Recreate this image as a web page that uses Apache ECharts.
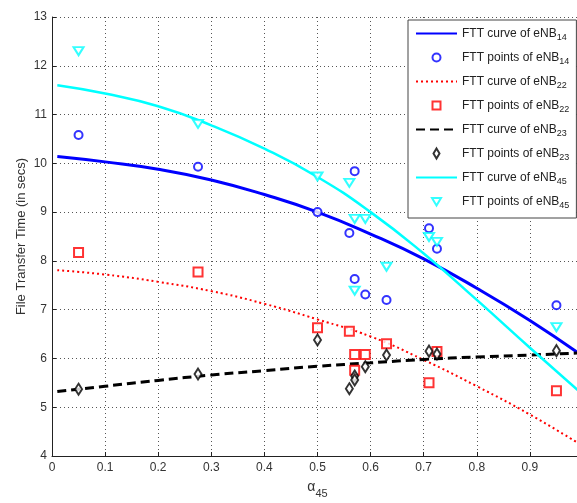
<!DOCTYPE html>
<html>
<head>
<meta charset="utf-8">
<script src="https://cdn.jsdelivr.net/npm/echarts@6/dist/echarts.min.js"></script>
<style>html,body{margin:0;padding:0;background:#fff}#c{width:577px;height:503px}</style>
</head>
<body>
<div id="c"></div>
<script>
// x positions of the fitted curves
const curveX = [0.01, 0.1, 0.2, 0.3, 0.4, 0.5, 0.6, 0.7, 0.8, 0.9, 0.99];
const curve14 = [10.14, 10.03, 9.88, 9.66, 9.36, 9.0, 8.55, 8.04, 7.44, 6.78, 6.12];
const curve22 = [7.81, 7.72, 7.57, 7.38, 7.12, 6.80, 6.45, 5.97, 5.43, 4.85, 4.27];
const curve23 = [5.32, 5.43, 5.55, 5.66, 5.75, 5.84, 5.91, 5.98, 6.03, 6.07, 6.11];
const curve45 = [11.60, 11.43, 11.17, 10.78, 10.30, 9.72, 9.0, 8.15, 7.2, 6.22, 5.35];

// measured points
const pointsX = [0.05, 0.275, 0.5, 0.56, 0.57, 0.57, 0.59, 0.63, 0.71, 0.725, 0.95];
const points14 = [10.58, 9.93, 9.0, 8.57, 9.84, 7.63, 7.31, 7.20, 8.67, 8.25, 7.09];
const points22 = [8.17, 7.77, 6.63, 6.56, 6.08, 5.76, 6.08, 6.30, 5.50, 6.14, 5.34];
const points23 = [5.37, 5.68, 6.38, 5.38, 5.64, 5.56, 5.83, 6.07, 6.15, 6.09, 6.16];
const points45 = [12.30, 10.81, 9.73, 9.60, 8.86, 7.39, 8.86, 7.88, 8.49, 8.39, 6.64];

const yTicks = [4, 5, 6, 7, 8, 9, 10, 11, 12, 13];
const xTicks = [0, 0.1, 0.2, 0.3, 0.4, 0.5, 0.6, 0.7, 0.8, 0.9];

const names = [
  'FTT curve of eNB14', 'FTT points of eNB14',
  'FTT curve of eNB22', 'FTT points of eNB22',
  'FTT curve of eNB23', 'FTT points of eNB23',
  'FTT curve of eNB45', 'FTT points of eNB45'
];

function pairs(xs, ys) { return xs.map((x, i) => [x, ys[i]]); }

const FONT = 'Liberation Sans, Arial, sans-serif';
const gridLine = { show: true, lineStyle: { color: '#555', type: [1, 3], width: 1 } };

// legend icon shapes inside a 41x10 box (so they are not stretched)
const BOX = 'M0 0 M41 10 ';
const iconCircle = 'path://' + BOX + 'M16.5 5 A4 4 0 1 1 24.5 5 A4 4 0 1 1 16.5 5 Z';
const iconRect = 'path://' + BOX + 'M16.5 1 L24.5 1 L24.5 9 L16.5 9 Z';
const iconDiamond = 'path://' + BOX + 'M20.5 0 L23.5 5 L20.5 10 L17.5 5 Z';
const iconTri = 'path://' + BOX + 'M16 1.5 L25 1.5 L20.5 9 Z';

function curveLeg(name) { return { name, itemStyle: { opacity: 0 } }; }
function ptsLeg(name, icon, color) {
  return { name, icon, itemStyle: { color: '#fff', borderColor: color, borderWidth: 2 } };
}

function curve(name, data, color, width, type) {
  return {
    name, type: 'line', data: pairs(curveX, data), smooth: true, showSymbol: false, symbol: 'none',
    lineStyle: { color, width, type }, itemStyle: { color }, z: 2, silent: true
  };
}
function pts(name, data, color, symbol, size, rotate) {
  return {
    name, type: 'scatter', data: pairs(pointsX, data), symbol, symbolSize: size,
    symbolRotate: rotate || 0,
    itemStyle: { color, borderColor: color, borderWidth: 2 }, z: 3, silent: true
  };
}

const chart = echarts.init(document.getElementById('c'), null, { renderer: 'canvas' });
chart.setOption({
  animation: false,
  backgroundColor: '#fff',
  grid: { left: 52, width: 531, top: 17, bottom: 47, containLabel: false, outerBoundsMode: 'none' },
  xAxis: {
    type: 'value', min: 0, max: 1, interval: 0.1,
    name: '{a|α}{s|45}', nameLocation: 'middle', nameGap: 20, nameMoveOverlap: false,
    nameTextStyle: {
      rich: {
        a: { fontFamily: FONT, fontSize: 14, color: '#333' },
        s: { fontFamily: FONT, fontSize: 11, color: '#333', padding: [12, 0, 0, 0] }
      }
    },
    axisLine: { show: true, onZero: false, lineStyle: { color: '#222', width: 1 } },
    axisTick: { show: true, inside: true, length: 4, lineStyle: { color: '#222' } },
    axisLabel: {
      show: true, margin: 6, color: '#333', fontFamily: FONT, fontSize: 12, showMaxLabel: false,
      formatter: v => (xTicks.some(t => Math.abs(t - v) < 1e-9) ? String(+v.toFixed(1)) : '')
    },
    splitLine: gridLine
  },
  yAxis: {
    type: 'value', min: 4, max: 13, interval: 1,
    name: 'File Transfer Time (in secs)', nameLocation: 'middle', nameGap: 24, nameMoveOverlap: false,
    nameTextStyle: { fontFamily: FONT, fontSize: 13, color: '#333' },
    axisLine: { show: true, onZero: false, lineStyle: { color: '#222', width: 1 } },
    axisTick: { show: true, inside: true, length: 4, lineStyle: { color: '#222' } },
    axisLabel: {
      margin: 5, color: '#333', fontFamily: FONT, fontSize: 12,
      formatter: v => (yTicks.includes(v) ? String(v) : '')
    },
    splitLine: gridLine
  },
  legend: {
    orient: 'vertical', left: 408, top: 20,
    padding: [5, 7, 8, 7], itemGap: 7, itemWidth: 41, itemHeight: 10,
    backgroundColor: '#fff', borderColor: '#444', borderWidth: 1,
    selectedMode: false,
    data: [
      curveLeg(names[0]), ptsLeg(names[1], iconCircle, '#0000ff'),
      curveLeg(names[2]), ptsLeg(names[3], iconRect, '#ff0000'),
      curveLeg(names[4]), ptsLeg(names[5], iconDiamond, '#000000'),
      curveLeg(names[6]), ptsLeg(names[7], iconTri, '#00ffff')
    ],
    formatter: n => '{t|' + n.replace(/\d+$/, '') + '}{s|' + n.match(/\d+$/)[0] + '}',
    textStyle: {
      color: '#222',
      rich: {
        t: { fontFamily: FONT, fontSize: 12, color: '#222', lineHeight: 17 },
        s: { fontFamily: FONT, fontSize: 9, color: '#222', lineHeight: 17, padding: [8, 0, 0, 0] }
      }
    }
  },
  series: [
    curve(names[0], curve14, '#0000ff', 3, 'solid'),
    pts(names[1], points14, '#0000ff', 'emptyCircle', 8),
    curve(names[2], curve22, '#ff0000', 2, [2, 3]),
    pts(names[3], points22, '#ff0000', 'emptyRect', 9),
    curve(names[4], curve23, '#000000', 3, [9, 5]),
    pts(names[5], points23, '#000000', 'emptyDiamond', [7, 11]),
    curve(names[6], curve45, '#00ffff', 2.5, 'solid'),
    pts(names[7], points45, '#00ffff', 'emptyTriangle', [10, 8], 180)
  ]
});
</script>
</body>
</html>
